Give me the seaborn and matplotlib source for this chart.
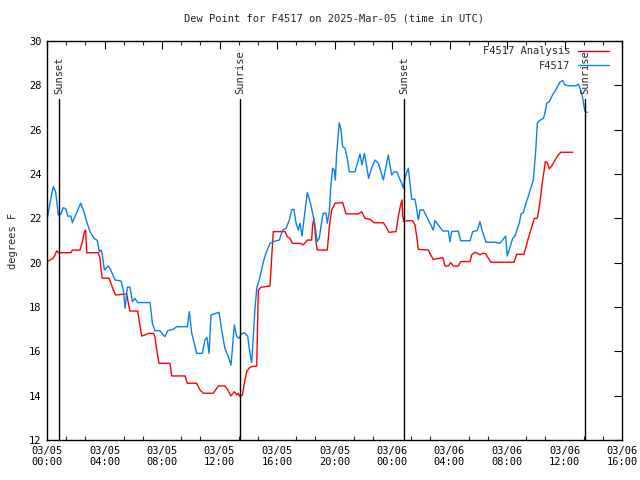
import matplotlib
matplotlib.use("Agg")
import matplotlib.pyplot as plt
import seaborn as sns
import pandas as pd
import numpy as np
from matplotlib.ticker import MultipleLocator

# hours since 03/05 00:00 UTC
obs_hours = [0.0, 0.2, 0.44, 0.6, 0.74, 0.79, 0.95, 1.13, 1.32, 1.44, 1.67, 1.76, 1.95, 2.34, 2.57, 2.76,
             2.99, 3.27, 3.5, 3.64, 3.76, 3.85, 3.99, 4.27, 4.43, 4.73, 5.15, 5.31, 5.43, 5.59, 5.77, 5.94,
             6.12, 6.31, 7.17, 7.33, 7.51, 7.86, 8.2, 8.4, 8.79, 9.02, 9.76, 9.9, 10.07, 10.25, 10.41, 10.8,
             10.99, 11.13, 11.27, 11.41, 11.8, 11.97, 12.15, 12.38, 12.61, 12.8, 12.89, 13.03, 13.2, 13.36,
             13.5, 13.73, 13.96, 14.12, 14.24, 14.35, 14.47, 14.59, 14.82, 15.05, 15.23, 15.51, 15.74, 16.16,
             16.39, 16.63, 16.86, 17.02, 17.18, 17.32, 17.48, 17.6, 17.74, 17.9, 18.11, 18.3, 18.48, 18.64,
             18.8, 18.94, 19.11, 19.22, 19.41, 19.5, 19.64, 19.74, 19.87, 19.98, 20.06, 20.15, 20.26, 20.33,
             20.43, 20.57, 20.73, 20.89, 21.03, 21.43, 21.59, 21.77, 21.91, 22.08, 22.22, 22.37, 22.58, 22.82,
             23.05, 23.23, 23.4, 23.58, 23.74, 23.86, 23.98, 24.14, 24.33, 24.51, 24.68, 24.79, 24.9, 25.02,
             25.14, 25.25, 25.37, 25.6, 25.67, 25.83, 25.95, 26.18, 26.41, 26.64, 26.87, 26.99, 27.22, 27.53,
             27.92, 28.03, 28.15, 28.61, 28.78, 29.43, 29.61, 29.93, 30.12, 30.26, 30.4, 30.54, 31.17, 31.51,
             31.79, 31.91, 32.02, 32.16, 32.4, 32.56, 32.72, 32.86, 32.97, 33.14, 33.32, 33.48, 33.65, 33.83,
             33.9, 34.0, 34.11, 34.25, 34.53, 34.64, 34.76, 34.94, 35.11, 35.27, 35.46, 35.69, 35.87, 36.03,
             36.26, 36.8, 36.96, 37.13, 37.27, 37.36, 37.43, 37.59]
obs_values = [21.93, 22.68, 23.43, 23.2, 22.45, 22.15, 22.18, 22.48, 22.42, 22.1, 22.1, 21.8, 22.08, 22.68,
              22.3, 21.85, 21.4, 21.1, 21.0, 20.5, 20.57, 20.35, 19.67, 19.85, 19.67, 19.22, 19.17, 18.77,
              17.94, 18.89, 18.89, 18.24, 18.39, 18.2, 18.2, 17.27, 16.93, 16.93, 16.66, 16.93, 17.0, 17.11,
              17.11, 17.79, 16.81, 16.36, 15.91, 15.91, 16.51, 16.63, 15.91, 17.64, 17.72, 17.76, 16.96,
              16.13, 15.76, 15.38, 16.06, 17.19, 16.66, 16.59, 16.78, 16.84, 16.69, 15.91, 15.49, 16.66,
              17.94, 18.84, 19.37, 20.04, 20.42, 20.87, 20.95, 21.02, 21.47, 21.55, 21.93, 22.38, 22.41,
              21.8, 21.47, 21.78, 21.2, 22.08, 23.16, 22.75, 22.23, 21.7, 20.95, 21.1, 21.85, 22.23, 22.23,
              21.78, 22.3, 23.43, 24.26, 24.18, 23.73, 24.93, 25.76, 26.31, 26.06, 25.23, 25.16, 24.71,
              24.1, 24.1, 24.48, 24.9, 24.41, 24.93, 24.41, 23.81, 24.26, 24.63, 24.48, 24.1, 23.73, 24.33,
              24.86, 24.41, 23.96, 24.1, 24.1, 23.81, 23.58, 23.36, 23.81, 24.06, 24.26, 23.58, 22.86,
              22.86, 22.6, 21.93, 22.38, 22.38, 22.08, 21.78, 21.47, 21.9, 21.7, 21.43, 21.43, 20.95, 21.4,
              21.43, 20.99, 20.99, 21.4, 21.45, 21.85, 21.47, 21.2, 20.92, 20.92, 20.87, 21.1, 21.2, 20.3,
              20.6, 21.1, 21.2, 21.55, 21.78, 22.2, 22.26, 22.68, 22.98, 23.36, 23.73, 24.26, 25.08, 26.29,
              26.4, 26.51, 26.74, 27.19, 27.26, 27.49, 27.67, 27.87, 28.16, 28.21, 28.02, 27.98, 27.98,
              28.06, 27.79, 27.42, 27.04, 26.81, 26.78]

ana_hours = [0.0, 0.21, 0.44, 0.56, 0.67, 0.79, 1.67, 1.76, 2.3, 2.46, 2.6, 2.69, 2.76, 3.57, 3.69, 3.76,
             3.85, 4.31, 4.45, 4.61, 4.78, 5.54, 5.66, 5.77, 6.31, 6.4, 6.59, 6.82, 7.05, 7.4, 7.51, 7.63,
             7.79, 8.56, 8.67, 9.6, 9.76, 10.41, 10.64, 10.87, 11.57, 11.92, 12.38, 12.57, 12.8, 13.03, 13.2,
             13.3, 13.43, 13.59, 13.73, 13.89, 14.05, 14.24, 14.59, 14.7, 14.89, 15.51, 15.63, 15.74, 16.56,
             16.72, 16.9, 17.07, 17.64, 17.83, 18.11, 18.41, 18.48, 18.57, 18.71, 18.8, 19.5, 19.64, 19.8,
             20.03, 20.57, 20.8, 21.66, 21.89, 22.12, 22.47, 22.75, 23.4, 23.58, 23.79, 24.28, 24.44, 24.6,
             24.7, 24.74, 24.83, 25.02, 25.44, 25.6, 25.72, 25.83, 26.53, 26.69, 26.87, 27.15, 27.53, 27.69,
             27.92, 28.08, 28.27, 28.61, 28.78, 29.43, 29.54, 29.77, 29.95, 30.12, 30.31, 30.5, 30.7, 30.87,
             32.49, 32.67, 33.18, 33.32, 33.48, 33.65, 33.79, 33.9, 34.11, 34.25, 34.37, 34.48, 34.59, 34.66,
             34.8, 34.94, 35.11, 35.34, 35.57, 35.74, 36.57]
ana_values = [20.05, 20.12, 20.2, 20.35, 20.54, 20.45, 20.45, 20.57, 20.57, 20.95, 21.4, 21.47, 20.45,
              20.45, 20.2, 19.67, 19.3, 19.3, 19.07, 18.77, 18.54, 18.59, 18.17, 17.82, 17.82, 17.42,
              16.69, 16.74, 16.81, 16.81, 16.66, 16.06, 15.46, 15.46, 14.89, 14.89, 14.56, 14.56, 14.26,
              14.11, 14.11, 14.44, 14.44, 14.26, 13.99, 14.18, 14.03, 14.11, 13.96, 14.03, 14.56, 15.08,
              15.24, 15.31, 15.34, 18.77, 18.89, 18.95, 20.2, 21.4, 21.4, 21.17, 21.1, 20.87, 20.87, 20.8,
              21.02, 21.02, 21.7, 22.0, 20.95, 20.57, 20.57, 21.62, 22.38, 22.68, 22.71, 22.2, 22.2, 22.3,
              22.0, 21.96, 21.8, 21.8, 21.62, 21.37, 21.4, 22.08, 22.6, 22.83, 22.15, 21.85, 21.89, 21.89,
              21.7, 21.17, 20.6, 20.57, 20.35, 20.15, 20.18, 20.23, 19.85, 19.85, 20.0, 19.85, 19.85, 20.05,
              20.05, 20.35, 20.47, 20.42, 20.35, 20.42, 20.42, 20.2, 20.02, 20.02, 20.38, 20.38, 20.72,
              21.1, 21.47, 21.78, 22.0, 22.0, 22.53, 23.13, 23.73, 24.18, 24.56, 24.51, 24.23, 24.36, 24.63,
              24.86, 24.98, 24.98]

events = ["Sunset", "Sunrise", "Sunset", "Sunrise"]
event_hours = [0.83, 13.43, 24.83, 37.43]

tick_hours = list(range(0, 41, 4))
tick_labels = ["03/05\n00:00", "03/05\n04:00", "03/05\n08:00", "03/05\n12:00", "03/05\n16:00",
               "03/05\n20:00", "03/06\n00:00", "03/06\n04:00", "03/06\n08:00", "03/06\n12:00",
               "03/06\n16:00"]

sns.set_style("white")
plt.rcParams['font.family'] = ['DejaVu Sans Mono']
plt.rcParams['font.size'] = 7

fig = plt.figure(figsize=(6.4, 4.8), dpi=100)
ax = fig.add_axes([47/640, 40/480, 575/640, 399/480])

df_ana = pd.DataFrame({"hour": ana_hours, "value": ana_values})
df_obs = pd.DataFrame({"hour": obs_hours, "value": obs_values})
sns.lineplot(data=df_ana, x="hour", y="value", ax=ax, color="#ff0000", lw=1.0,
             estimator=None, label="F4517 Analysis")
sns.lineplot(data=df_obs, x="hour", y="value", ax=ax, color="#0a80f0", lw=1.0,
             estimator=None, label="F4517")

for name, h in zip(events, event_hours):
    ax.plot([h, h], [12, 27.4], color="black", lw=1.0)
    ax.text(h, 27.6, name, rotation=90, ha="center", va="bottom", fontsize=7.5)

ax.set_xlim(0, 40)
ax.set_ylim(12, 30)
ax.set_xticks(tick_hours)
ax.set_xticklabels(tick_labels)
ax.xaxis.set_minor_locator(MultipleLocator(4/3))
ax.set_yticks(range(12, 31, 2))
ax.tick_params(which="major", direction="in", length=6, width=0.8, top=True, right=True,
               labelsize=7.5, pad=4, colors="black")
ax.tick_params(which="minor", direction="in", length=3, width=0.8, top=True, bottom=True)
for s in ax.spines.values():
    s.set_color("black")
    s.set_linewidth(1.0)
ax.set_xlabel("")
ax.set_ylabel("degrees F", fontsize=7.5, labelpad=8)
ax.set_title("Dew Point for F4517 on 2025-Mar-05 (time in UTC)", fontsize=7.5, pad=14)

leg = ax.legend(loc="upper right", bbox_to_anchor=(0.99, 1.005), frameon=False, markerfirst=False,
                handlelength=3.0, handletextpad=0.7, labelspacing=0.45, fontsize=7.5, borderpad=0.2)

fig.savefig("out.png", dpi=100)
